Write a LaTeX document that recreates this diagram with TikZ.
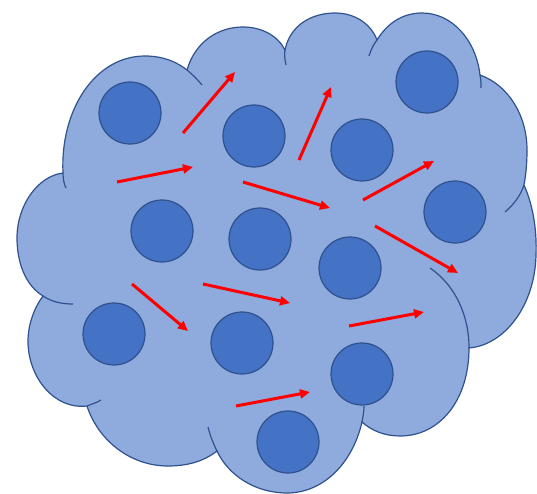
\documentclass[tikz,border=0pt]{standalone}
\usetikzlibrary{arrows.meta}
\begin{document}
\begin{tikzpicture}[x=1pt,y=-1pt,line width=1.2pt,
  cloudline/.style={draw=cloudedge,line width=1.2pt},
  bead/.style={circle,draw=cloudedge,fill=beadblue,line width=1.2pt,minimum size=62pt,inner sep=0pt},
  drift/.style={draw=driftred,line width=3pt,-{Triangle[length=10pt,width=9pt]}}]
\definecolor{cloudfill}{RGB}{143,170,220}
\definecolor{cloudedge}{RGB}{47,82,143}
\definecolor{beadblue}{RGB}{68,114,196}
\definecolor{driftred}{RGB}{255,0,0}
\useasboundingbox (0,0) rectangle (537,494);
% cloud outline, lobe by lobe
\filldraw[cloudline,fill=cloudfill]
  (43,296) .. controls (25,285) and (17,262) .. (17,238)
  .. controls (17,205) and (38,176) .. (63,173)
  .. controls (60,110) and (95,56) .. (145,56)
  .. controls (163,56) and (177,62) .. (187,70)
  .. controls (195,42) and (218,27) .. (243,27)
  .. controls (262,27) and (278,36) .. (285,50)
  .. controls (290,25) and (312,13) .. (335,13)
  .. controls (355,13) and (371,24) .. (377,40)
  .. controls (388,22) and (404,13) .. (422,13)
  .. controls (452,13) and (476,40) .. (480,75)
  .. controls (508,85) and (527,115) .. (527,150)
  .. controls (527,163) and (526,174) .. (524,185)
  .. controls (533,205) and (537,230) .. (536,255)
  .. controls (535,305) and (505,345) .. (469,348)
  .. controls (469,400) and (440,436) .. (400,436)
  .. controls (385,436) and (372,431) .. (362,422)
  .. controls (352,465) and (322,493) .. (287,493)
  .. controls (255,493) and (228,475) .. (217,451)
  .. controls (203,462) and (186,466) .. (168,466)
  .. controls (130,466) and (98,440) .. (87,406)
  .. controls (55,410) and (28,378) .. (28,341)
  .. controls (28,325) and (34,308) .. cycle;
% inner tails of the lobes
\draw[cloudline] (63,173) .. controls (63,179) and (64,184) .. (66,188);
\draw[cloudline] (187,70) .. controls (193,75) and (198,80) .. (202,85);
\draw[cloudline] (285,50) .. controls (284,55) and (285,60) .. (286,65);
\draw[cloudline] (377,40) .. controls (373,45) and (371,50) .. (369,56);
\draw[cloudline] (480,75) .. controls (481,79) and (481,84) .. (481,88);
\draw[cloudline] (524,185) .. controls (520,197) and (513,205) .. (505,212);
\draw[cloudline] (430,268) .. controls (455,285) and (469,315) .. (469,348);
\draw[cloudline] (362,422) .. controls (363,417) and (364,411) .. (364,406);
\draw[cloudline] (217,451) .. controls (213,443) and (210,435) .. (208,427);
\draw[cloudline] (87,406) .. controls (92,404) and (96,403) .. (101,400);
\draw[cloudline] (43,296) .. controls (52,302) and (62,304) .. (73,304);
% beads
\node[bead] (c1) at (130,113) {};
\node[bead] (c2) at (254,136) {};
\node[bead] (c3) at (362,150) {};
\node[bead] (c4) at (427,82) {};
\node[bead] (c5) at (455,212) {};
\node[bead] (c6) at (162,231) {};
\node[bead] (c7) at (260,239) {};
\node[bead] (c8) at (350,268) {};
\node[bead] (c9) at (114,334) {};
\node[bead] (c10) at (242,343) {};
\node[bead] (c11) at (362,374) {};
\node[bead] (c12) at (288,442) {};
% drift arrows
\coordinate (a1s) at (183,133); \coordinate (a1e) at (235,72);
\coordinate (a2s) at (117,182); \coordinate (a2e) at (193,167);
\coordinate (a3s) at (299,160); \coordinate (a3e) at (331,87);
\coordinate (a4s) at (243,182); \coordinate (a4e) at (330,208);
\coordinate (a5s) at (363,200); \coordinate (a5e) at (434,161);
\coordinate (a6s) at (375,226); \coordinate (a6e) at (458,273);
\coordinate (a7s) at (132,284); \coordinate (a7e) at (188,331);
\coordinate (a8s) at (203,284); \coordinate (a8e) at (290,303);
\coordinate (a9s) at (349,326); \coordinate (a9e) at (424,312);
\coordinate (a10s) at (236,406); \coordinate (a10e) at (310,392);
\foreach \i in {1,...,10}
  \draw[drift] (a\i s) -- (a\i e);
\end{tikzpicture}
\end{document}
